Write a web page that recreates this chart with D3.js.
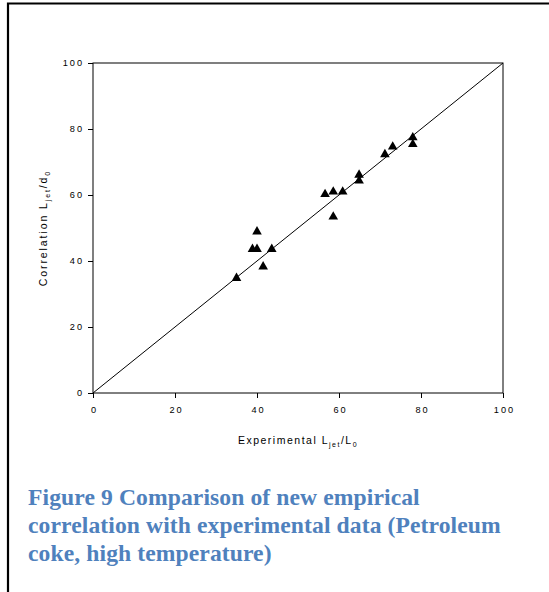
<!DOCTYPE html>
<html>
<head>
<meta charset="utf-8">
<script src="https://cdn.jsdelivr.net/npm/d3@7"></script>
<style>
  html, body { margin: 0; padding: 0; background: #fff; }
  svg { display: block; }
</style>
</head>
<body>
<svg id="chart" width="549" height="592"></svg>
<script>
// Data (experimental vs correlation)
const experimental = [35.0, 38.9, 40.0, 40.0, 41.5, 43.6, 56.6, 58.6, 58.6, 60.9, 64.9, 64.9, 71.2, 73.1, 78.0, 78.0];
const correlation  = [34.8, 43.6, 43.6, 48.9, 38.3, 43.6, 60.2, 61.0, 53.4, 61.0, 66.1, 64.3, 72.3, 74.6, 77.4, 75.4];
const xTicks = [0, 20, 40, 60, 80, 100];
const yTicks = [0, 20, 40, 60, 80, 100];
const diagonal = [[0, 0], [100, 100]];
const captionLines = [
  "Figure 9 Comparison of new empirical",
  "correlation with experimental data (Petroleum",
  "coke, high temperature)"
];

const svg = d3.select("#chart");
const m = { left: 93, top: 63, w: 410, h: 330 };

// page frame
svg.append("path")
  .attr("d", "M8,592 V3.5 H549")
  .attr("fill", "none").attr("stroke", "#000").attr("stroke-width", 2.2);

const x = d3.scaleLinear().domain([0, 100]).range([m.left, m.left + m.w]);
const y = d3.scaleLinear().domain([0, 100]).range([m.top + m.h, m.top]);

// plot box
svg.append("rect")
  .attr("x", m.left).attr("y", m.top).attr("width", m.w).attr("height", m.h)
  .attr("fill", "none").attr("stroke", "#000").attr("stroke-width", 1);

const tickFont = "'Liberation Sans', Arial, sans-serif";

const xAxis = svg.append("g")
  .attr("transform", `translate(0,${m.top + m.h})`)
  .call(d3.axisBottom(x).tickValues(xTicks).tickSize(5).tickPadding(8));
const yAxis = svg.append("g")
  .attr("transform", `translate(${m.left},0)`)
  .call(d3.axisLeft(y).tickValues(yTicks).tickSize(5).tickPadding(6));
[xAxis, yAxis].forEach(g => {
  g.select(".domain").remove();
  g.selectAll("line").attr("stroke", "#000");
  g.selectAll("text")
    .attr("font-family", tickFont)
    .attr("font-size", 9.2)
    .attr("letter-spacing", 2)
    .attr("fill", "#000");
});
yAxis.selectAll("text").attr("dx", 2);
xAxis.selectAll("text").attr("dx", 1);

// diagonal 1:1 line
svg.append("path")
  .datum(diagonal)
  .attr("d", d3.line().x(d => x(d[0])).y(d => y(d[1])))
  .attr("fill", "none").attr("stroke", "#000").attr("stroke-width", 1);

// points
const tri = d3.symbol().type(d3.symbolTriangle).size(40);
svg.append("g").selectAll("path")
  .data(experimental.map((v, i) => [v, correlation[i]]))
  .join("path")
  .attr("d", tri)
  .attr("transform", d => `translate(${x(d[0])},${y(d[1])})`)
  .attr("fill", "#000");

// axis titles
const titleFont = "'Liberation Sans', Arial, sans-serif";
const xt = svg.append("text")
  .attr("x", x(50)).attr("y", 444)
  .attr("text-anchor", "middle")
  .attr("font-family", titleFont).attr("font-size", 10.5)
  .attr("letter-spacing", 1.5).attr("fill", "#000");
xt.append("tspan").text("Experimental L");
xt.append("tspan").attr("font-size", 7).attr("dy", 3).text("jet");
xt.append("tspan").attr("dy", -3).text("/L");
xt.append("tspan").attr("font-size", 7).attr("dy", 3).text("0");

const yt = svg.append("text")
  .attr("transform", `translate(47,${y(50) + 0}) rotate(-90)`)
  .attr("text-anchor", "middle")
  .attr("font-family", titleFont).attr("font-size", 10.5)
  .attr("letter-spacing", 1.9).attr("fill", "#000");
yt.append("tspan").text("Correlation L");
yt.append("tspan").attr("font-size", 7).attr("dy", 3).text("jet");
yt.append("tspan").attr("dy", -3).text("/d");
yt.append("tspan").attr("font-size", 7).attr("dy", 3).text("0");

// caption
svg.append("g").selectAll("text")
  .data(captionLines)
  .join("text")
  .attr("x", 28)
  .attr("y", (d, i) => 505 + i * 28)
  .attr("font-family", "'Liberation Serif', 'Times New Roman', serif")
  .attr("font-weight", "bold")
  .attr("font-size", 23.6)
  .attr("letter-spacing", 0.1)
  .attr("fill", "#4F81BD")
  .text(d => d);
</script>
</body>
</html>
